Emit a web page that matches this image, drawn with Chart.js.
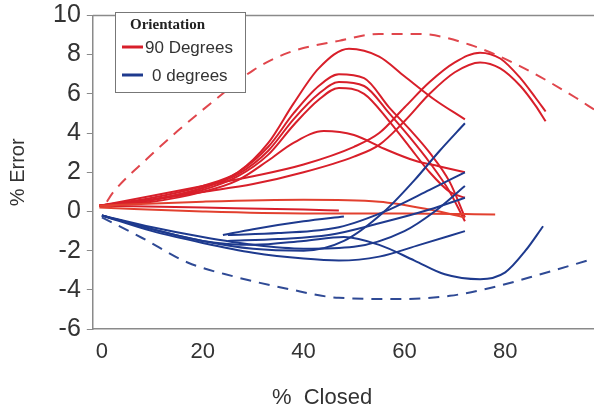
<!DOCTYPE html>
<html>
<head>
<meta charset="utf-8">
<script src="https://cdn.jsdelivr.net/npm/chart.js@4/dist/chart.umd.min.js"></script>
<style>
  html, body { margin: 0; padding: 0; background: #fff; }
  #wrap { width: 594px; height: 412px; }
</style>
</head>
<body>
<div id="wrap"><canvas id="canvas" width="594" height="412"></canvas></div>
<script>
// axis ticks
const xTicks = [0, 20, 40, 60, 80];
const yTicks = [-6, -4, -2, 0, 2, 4, 6, 8, 10];

// dashed envelopes
const redEnvX = [1, 2, 9, 15, 22, 30, 37, 47, 55, 63, 73, 83, 94, 97.6];
const redEnvY = [0.5, 0.9, 2.7, 4.1, 5.6, 7.2, 8.1, 8.7, 9.05, 9.05, 8.5, 7.4, 5.8, 5.2];
const blueEnvX = [0, 8, 17, 26, 37, 47, 59, 69, 77, 87, 97.6];
const blueEnvY = [-0.3, -1.35, -2.6, -3.3, -3.95, -4.4, -4.46, -4.3, -3.9, -3.2, -2.4];

// 90 degrees runs (red)
const r1x = [-0.5, 10, 20, 27, 33, 38, 43, 49, 55, 60, 66, 72];
const r1y = [0.3, 0.6, 1.2, 2.0, 3.5, 5.5, 7.3, 8.3, 7.9, 6.9, 5.7, 4.7];
const r2x = [-0.5, 10, 20, 27, 33, 38, 43, 47, 52, 57, 61, 65, 69, 72];
const r2y = [0.3, 0.7, 1.3, 2.0, 3.3, 5.0, 6.4, 7.0, 6.8, 5.3, 4.2, 3.0, 1.5, -0.3];
const r3x = [-0.5, 10, 20, 27, 33, 38, 43, 47, 52, 57, 61, 65, 69, 72];
const r3y = [0.3, 0.6, 1.2, 1.9, 3.1, 4.7, 6.0, 6.6, 6.4, 5.0, 3.8, 2.5, 1.0, -0.5];
const r4x = [-0.5, 10, 20, 27, 33, 38, 43, 47, 52, 57, 61, 65, 69, 72];
const r4y = [0.3, 0.6, 1.1, 1.8, 2.9, 4.4, 5.7, 6.3, 6.0, 4.6, 3.3, 2.0, 1.0, 0.7];
const r5x = [-0.5, 10, 20, 27, 33, 38, 44, 50, 56, 62, 67, 72];
const r5y = [0.3, 0.5, 1.0, 1.6, 2.6, 3.5, 4.1, 3.9, 3.2, 2.6, 2.3, 2.0];
const r6x = [-0.5, 10, 20, 30, 40, 50, 55, 60, 65, 70, 75, 79, 83, 86, 88];
const r6y = [0.3, 0.8, 1.3, 1.8, 2.4, 3.3, 4.0, 5.3, 6.6, 7.6, 8.1, 7.8, 6.8, 5.8, 5.1];
const r7x = [-0.5, 10, 20, 30, 40, 50, 55, 60, 65, 70, 75, 79, 83, 86, 88];
const r7y = [0.3, 0.6, 1.0, 1.4, 2.0, 2.8, 3.4, 4.6, 6.0, 7.1, 7.6, 7.3, 6.4, 5.4, 4.6];
const r8x = [-0.5, 20, 40, 60, 78];
const r8y = [0.2, 0.0, -0.1, -0.1, -0.15];
const r9x = [-0.5, 20, 40, 55, 65, 72];
const r9y = [0.3, 0.5, 0.6, 0.5, 0.1, -0.3];
const r10x = [-0.5, 20, 40, 47];
const r10y = [0.3, 0.2, 0.1, 0.05];

// 0 degrees runs (blue)
const b1x = [0, 10, 20, 30, 40, 48, 56, 62, 67, 72];
const b1y = [-0.2, -0.9, -1.5, -1.9, -2.0, -1.5, 0.0, 1.6, 3.1, 4.5];
const b2x = [25, 35, 47, 57, 65, 72];
const b2y = [-1.2, -1.1, -0.8, 0.1, 1.1, 2.0];
const b3x = [25, 35, 45, 55, 65, 72];
const b3y = [-1.5, -1.4, -1.2, -0.6, 0.1, 0.7];
const b4x = [0, 10, 20, 30, 40, 47, 55, 63, 72];
const b4y = [-0.2, -1.0, -1.6, -2.1, -2.4, -2.5, -2.3, -1.7, -1.0];
const b5x = [0, 10, 20, 30, 40, 48, 55, 62, 68, 75, 80, 84, 87.5];
const b5y = [-0.2, -0.9, -1.5, -1.7, -1.5, -1.3, -1.7, -2.5, -3.2, -3.45, -3.1, -2.0, -0.75];
const b6x = [24, 30, 40, 48];
const b6y = [-1.2, -0.9, -0.5, -0.25];
const b7x = [0, 10, 20, 30, 40, 50, 60, 66, 72];
const b7y = [-0.2, -0.8, -1.3, -1.7, -1.9, -1.8, -1.0, 0.0, 1.3];

const RED = '#d81f2a';
const BLUE = '#1e3a8e';

function pts(xs, ys) {
  return xs.map((x, i) => ({x: x, y: ys[i]}));
}
function run(xs, ys, color) {
  return {data: pts(xs, ys), borderColor: color, borderWidth: 2, pointRadius: 0,
          cubicInterpolationMode: 'monotone', fill: false};
}

const datasets = [
  {data: pts(redEnvX, redEnvY), borderColor: '#e0464c', borderWidth: 2, borderDash: [11, 8],
   pointRadius: 0, cubicInterpolationMode: 'monotone', fill: false},
  {data: pts(blueEnvX, blueEnvY), borderColor: '#2f4a95', borderWidth: 2, borderDash: [11, 8],
   pointRadius: 0, cubicInterpolationMode: 'monotone', fill: false},
  run(b1x, b1y, BLUE), run(b2x, b2y, BLUE), run(b3x, b3y, BLUE), run(b4x, b4y, BLUE),
  run(b5x, b5y, BLUE), run(b6x, b6y, BLUE), run(b7x, b7y, BLUE),
  run(r8x, r8y, '#e2402f'), run(r9x, r9y, '#e2402f'), run(r10x, r10y, RED),
  run(r1x, r1y, RED), run(r2x, r2y, RED), run(r3x, r3y, RED), run(r4x, r4y, RED),
  run(r5x, r5y, RED), run(r6x, r6y, RED), run(r7x, r7y, RED)
];

// top frame line and the boxed legend
const framePlugin = {
  id: 'frame',
  afterDraw(chart) {
    const ctx = chart.ctx;
    const a = chart.chartArea;
    ctx.save();
    ctx.strokeStyle = '#8a8a8a';
    ctx.lineWidth = 1.5;
    ctx.beginPath();
    ctx.moveTo(a.left, a.top);
    ctx.lineTo(a.right, a.top);
    ctx.stroke();

    // legend box
    const bx = 115, by = 12, bw = 130, bh = 80;
    ctx.fillStyle = '#fff';
    ctx.fillRect(bx, by, bw, bh);
    ctx.strokeStyle = '#777';
    ctx.lineWidth = 1;
    ctx.strokeRect(bx + 0.5, by + 0.5, bw, bh);
    ctx.fillStyle = '#222';
    ctx.textBaseline = 'middle';
    ctx.font = 'bold 15px "Liberation Serif", "DejaVu Serif", serif';
    ctx.fillText('Orientation', 130, 25);
    ctx.font = '17px "Liberation Sans", Arial, sans-serif';
    ctx.fillStyle = '#333';
    ctx.fillText('90 Degrees', 145, 48);
    ctx.fillText('0 degrees', 152, 76);
    ctx.lineWidth = 3;
    ctx.strokeStyle = RED;
    ctx.beginPath(); ctx.moveTo(122, 47); ctx.lineTo(143, 47); ctx.stroke();
    ctx.strokeStyle = BLUE;
    ctx.beginPath(); ctx.moveTo(122, 75); ctx.lineTo(143, 75); ctx.stroke();
    ctx.restore();
  }
};

const config = {
  type: 'line',
  data: {datasets: datasets},
  options: {
    responsive: false,
    animation: false,
    layout: {padding: {top: 0, right: 0, left: 0, bottom: 0}},
    plugins: {legend: {display: false}, tooltip: {enabled: false}},
    scales: {
      x: {
        type: 'linear',
        min: -1.8,
        max: 97.6,
        afterBuildTicks: s => { s.ticks = xTicks.map(v => ({value: v})); },
        grid: {display: false},
        border: {display: true, color: '#8a8a8a', width: 1.5},
        ticks: {color: '#333', padding: 2, font: {size: 22, family: '"Liberation Sans", Arial, sans-serif'}},
        title: {display: true, text: '%  Closed       ', color: '#333',
                font: {size: 22, family: '"Liberation Sans", Arial, sans-serif'},
                padding: {top: 17, bottom: 1}}
      },
      y: {
        min: -6,
        max: 10,
        afterBuildTicks: s => { s.ticks = yTicks.map(v => ({value: v})); },
        grid: {display: true, drawOnChartArea: false, drawTicks: true, tickLength: 6, color: '#8a8a8a'},
        border: {display: true, color: '#8a8a8a', width: 1.5},
        ticks: {color: '#333', padding: 6,
                font: {size: 25, lineHeight: 0.75, family: '"Liberation Sans", Arial, sans-serif'}},
        title: {display: true, text: '% Error', color: '#333',
                font: {size: 20, family: '"Liberation Sans", Arial, sans-serif'},
                padding: {top: 6, bottom: 17}}
      }
    }
  },
  plugins: [framePlugin]
};

const canvas = document.getElementById('canvas');
const chart = new Chart(canvas, config);
</script>
</body>
</html>
